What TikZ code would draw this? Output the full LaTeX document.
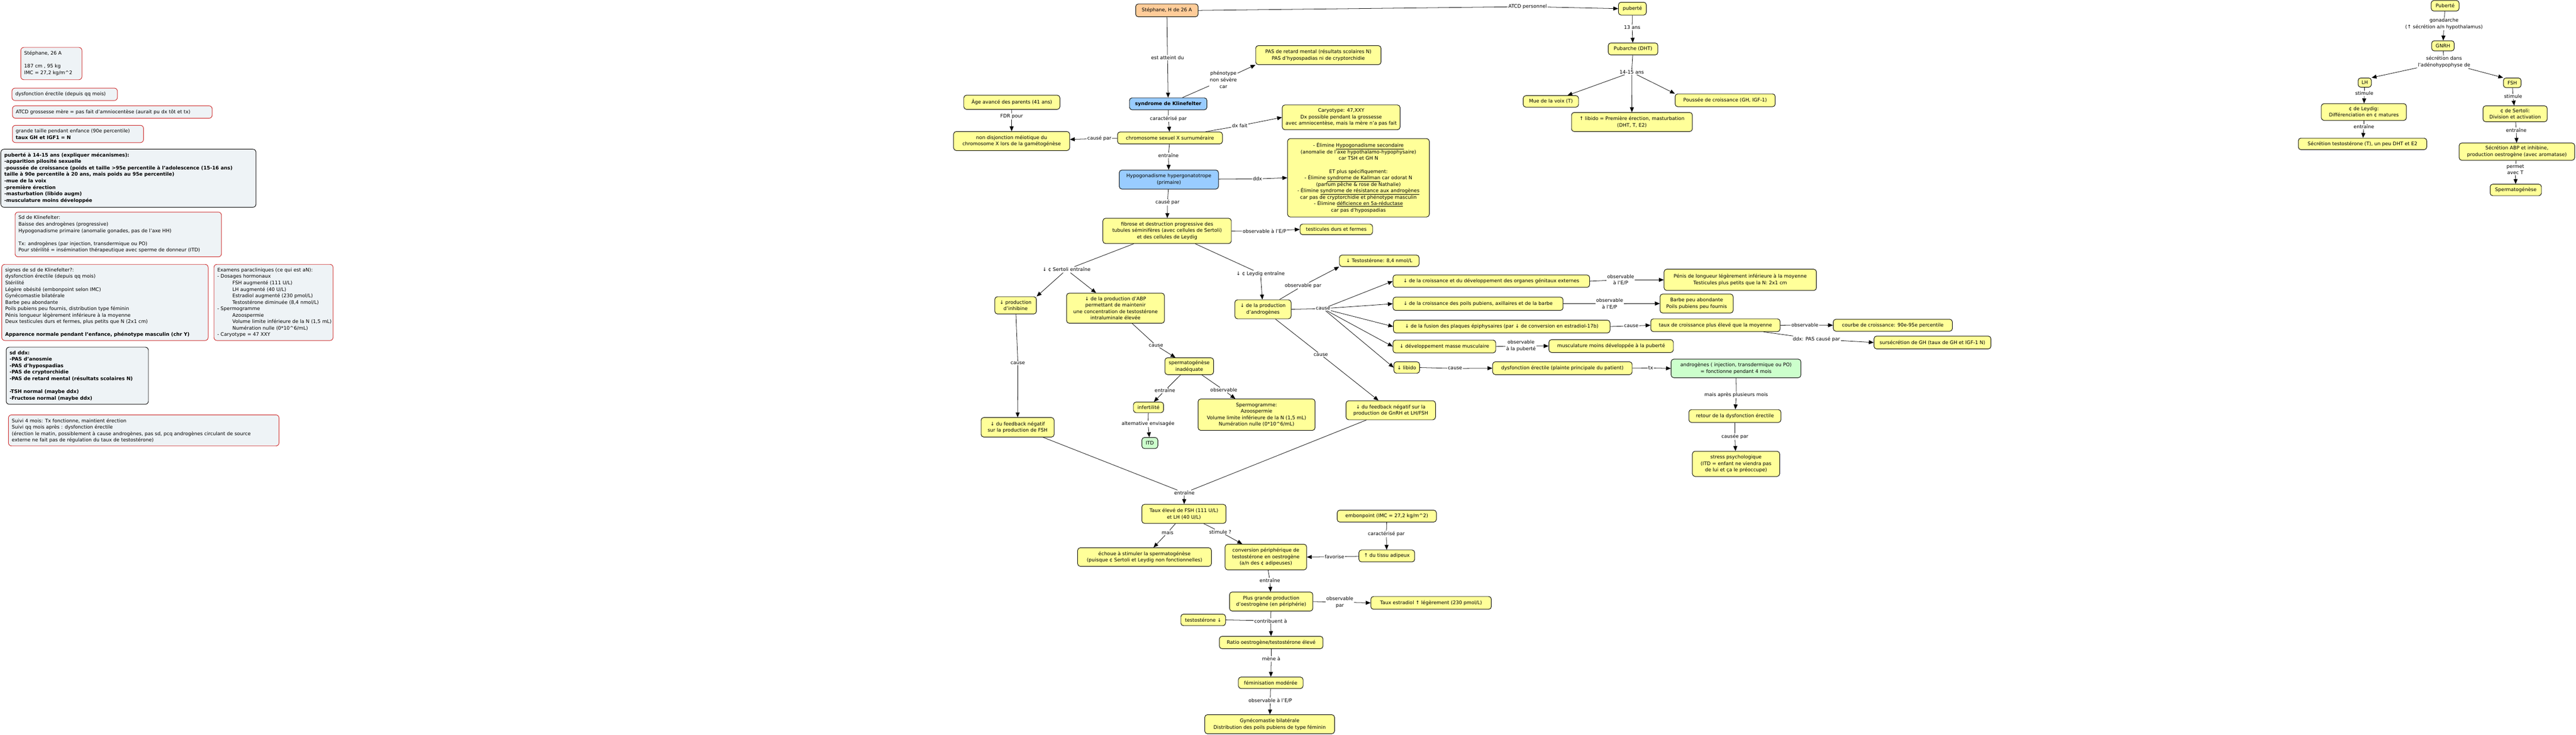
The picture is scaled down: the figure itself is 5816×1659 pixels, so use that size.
\documentclass[tikz,border=0pt]{standalone}
\usepackage{fontspec}
\setmainfont{DejaVu Sans}
\usetikzlibrary{arrows.meta}
\definecolor{cy}{HTML}{FFFF99}
\definecolor{cbl}{HTML}{99CCFF}
\definecolor{cgr}{HTML}{CCFFCC}
\definecolor{cor}{HTML}{FFCC99}
\definecolor{cnf}{HTML}{EEF3F6}
\definecolor{crd}{HTML}{CC2222}
\newcommand\BX[7]{\node[#1,minimum width={#5-#3},minimum height={#6-#4}] (#2) at ({(#3+#5)/2},{(#4+#6)/2}) {#7};}
\newcommand\NT[7]{\node[#1,minimum width={#5-#3},minimum height={#6-#4}] (#2) at ({(#3+#5)/2},{(#4+#6)/2}) {};
  \node[ntx] (#2t) at ([xshift=8pt,yshift=-8.5pt]#2.north west) {#7};}
\newcommand\NTB[7]{\node[#1,minimum width={#5-#3},minimum height={#6-#4}] (#2) at ({(#3+#5)/2},{(#4+#6)/2}) {};
  \node[ntx,font=\fontsize{11}{14.6}\selectfont\bfseries] (#2t) at ([xshift=8pt,yshift=-8.5pt]#2.north west) {#7};}
\newcommand\LB[3]{\node[lb] (#1) at (#2) {#3};}
\newcommand\LK[3]{\draw[ln] (#1) -- (#2); \draw[ar] (#2) -- (#3);}
\begin{document}
\begin{tikzpicture}[x=1pt,y=-1pt,
  every node/.style={font=\fontsize{11}{14.6}\selectfont},
  cn/.style={draw=black, line width=1.1pt, rounded corners=6pt, align=center, inner sep=2pt},
  yb/.style={cn, fill=cy},
  bb/.style={cn, fill=cbl},
  gb/.style={cn, fill=cgr},
  ob/.style={cn, fill=cor},
  nt/.style={draw=crd, line width=1.1pt, rounded corners=7pt, fill=cnf},
  ntk/.style={nt, draw=black},
  ntx/.style={anchor=north west, align=left, inner sep=0pt},
  lb/.style={inner sep=1.5pt, align=center},
  ln/.style={line width=0.9pt},
  ar/.style={ln, -{Triangle[length=11pt,width=9pt]}}]
\useasboundingbox (0,0) rectangle (5816,1659);
\fill[white] (0,0) rectangle (5816,1659);

% ---------- left notes ----------
\NT{nt}{n1}{47}{107}{185}{180}{Stéphane, 26 A\\[14.6pt]187 cm , 95 kg\\IMC = 27,2 kg/m\textasciicircum 2}
\NT{nt}{n2}{27}{199}{265}{227}{dysfonction érectile (depuis qq mois)}
\NT{nt}{n3}{28}{239}{479}{267}{ATCD grossesse mère = pas fait d'amniocentèse (aurait pu dx tôt et tx)}
\NT{nt}{n4}{28}{283}{324}{322}{grande taille pendant enfance (90e percentile)\\\textbf{taux GH et IGF1 = N}}
\NTB{ntk}{n5}{2}{337}{578}{468}{puberté à 14-15 ans (expliquer mécanismes):\\-apparition pilosité sexuelle\\-poussée de croissance (poids et taille >95e percentile à l'adolescence (15-16 ans)\\taille à 90e percentile à 20 ans, mais poids au 95e percentile)\\-mue de la voix\\-première érection\\-masturbation (libido augm)\\-musculature moins développée}
\NT{nt}{n6}{34}{479}{500}{580}{Sd de Klinefelter:\\Baisse des androgènes (progressive)\\Hypogonadisme primaire (anomalie gonades, pas de l'axe HH)\\[14.6pt]Tx: androgènes (par injection, transdermique ou PO)\\Pour stérilité = insémination thérapeutique avec sperme de donneur (ITD)}
\NT{nt}{n7}{4}{597}{470}{769}{signes de sd de Klinefelter?:\\dysfonction érectile (depuis qq mois)\\Stérilité\\Légère obésité (embonpoint selon IMC)\\Gynécomastie bilatérale\\Barbe peu abondante\\Poils pubiens peu fournis, distribution type féminin\\Pénis longueur légèrement inférieure à la moyenne\\Deux testicules durs et fermes, plus petits que N (2x1 cm)\\[14.6pt]\textbf{Apparence normale pendant l'enfance, phénotype masculin (chr Y)}}
\NT{nt}{n8}{483}{597}{752}{769}{Examens paracliniques (ce qui est aN):\\- Dosages hormonaux\\\hspace*{34pt}FSH augmenté (111 U/L)\\\hspace*{34pt}LH augmenté (40 U/L)\\\hspace*{34pt}Estradiol augmenté (230 pmol/L)\\\hspace*{34pt}Testostérone diminuée (8,4 nmol/L)\\- Spermogramme\\\hspace*{34pt}Azoospermie\\\hspace*{34pt}Volume limite inférieure de la N (1,5 mL)\\\hspace*{34pt}Numération nulle (0*10\textasciicircum 6/mL)\\- Caryotype = 47 XXY}
\NTB{ntk}{n9}{14}{784}{335}{913}{sd ddx:\\-PAS d'anosmie\\-PAS d'hypospadias\\-PAS de cryptorchidie\\-PAS de retard mental (résultats scolaires N)\\[14.6pt]-TSH normal (maybe ddx)\\-Fructose normal (maybe ddx)}
\NT{nt}{n10}{19}{937}{630}{1007}{Suivi 4 mois: Tx fonctionne, maintient érection\\Suivi qq mois après : dysfonction érectile\\(érection le matin, possiblement à cause androgènes, pas sd, pcq androgènes circulant de source\\externe ne fait pas de régulation du taux de testostérone)}

% ---------- central map ----------
\BX{ob}{steph}{2564}{9}{2705}{38}{Stéphane, H de 26 A}
\LB{l1}{2636,130}{est atteint du}
\BX{bb}{klin}{2550}{221}{2725}{248}{\textbf{syndrome de Klinefelter}}
\LB{l2}{2762,180}{phénotype\\non sévère\\car}
\BX{yb}{pasret}{2835}{103}{3118}{146}{PAS de retard mental (résultats scolaires N)\\PAS d'hypospadias ni de cryptorchidie}
\LB{l3}{2638,268}{caractérisé par}
\BX{yb}{chromo}{2523}{298}{2760}{325}{chromosome sexuel X surnuméraire}
\LB{l4}{2482,313}{causé par}
\BX{yb}{nondis}{2153}{297}{2415}{340}{non disjonction méiotique du\\chromosome X lors de la gamétogénèse}
\BX{yb}{age}{2176}{215}{2393}{247}{Âge avancé des parents (41 ans)}
\LB{l5}{2284,263}{FDR pour}
\LB{l6}{2799,284}{dx fait}
\BX{yb}{caryo}{2895}{237}{3161}{293}{Caryotype: 47,XXY\\Dx possible pendant la grossesse\\avec amniocentèse, mais la mère n'a pas fait}
\LB{l7}{2638,351}{entraîne}
\BX{bb}{hypo}{2527}{384}{2751}{427}{Hypogonadisme hypergonatotrope\\(primaire)}
\LB{l8}{2839,404}{ddx}
\BX{yb}{ddxb}{2907}{313}{3227}{490}{- Élimine \underline{Hypogonadisme secondaire}\\(anomalie de l'axe hypothalamo-hypophysaire)\\car TSH et GH N\\[14.6pt]ET plus spécifiquement:\\- Élimine \underline{syndrome de Kallman} car odorat N\\(parfum pêche \& rose de Nathalie)\\- Élimine \underline{syndrome de résistance aux androgènes}\\car pas de cryptorchidie et phénotype masculin\\- Élimine \underline{déficience en 5a-réductase}\\car pas d'hypospadias}
\LB{l9}{2636,457}{causé par}
\BX{yb}{fib}{2490}{493}{2780}{550}{fibrose et destruction progressive des\\tubules séminifères (avec cellules de Sertoli)\\et des cellules de Leydig}
\LB{l10}{2855,522}{observable à l'E/P}
\BX{yb}{testic}{2935}{506}{3099}{530}{testicules durs et fermes}
\LB{lS}{2408,609}{↓ ¢ Sertoli entraîne}
\LB{lL}{2846,618}{↓ ¢ Leydig entraîne}
\BX{yb}{inhib}{2246}{670}{2340}{709}{↓ production\\d'inhibine}
\BX{yb}{abp}{2408}{662}{2629}{730}{↓ de la production d'ABP\\permettant de maintenir\\une concentration de testostérone\\intraluminale élevée}
\LB{l11}{2298,820}{cause}
\BX{yb}{fbfsh}{2215}{943}{2380}{987}{↓ du feedback négatif\\sur la production de FSH}
\LB{l12}{2610,780}{cause}
\BX{yb}{spinad}{2630}{808}{2740}{846}{spermatogénèse\\inadéquate}
\LB{l13}{2630,882}{entraîne}
\LB{l14}{2763,881}{observable}
\BX{yb}{infert}{2559}{908}{2627}{932}{infertilité}
\BX{yb}{spermo}{2705}{901}{2969}{972}{Spermogramme:\\Azoospermie\\Volume limite inférieure de la N (1,5 mL)\\Numération nulle (0*10\textasciicircum 6/mL)}
\LB{l15}{2592,957}{alternative envisagée}
\BX{gb}{itd}{2578}{988}{2614}{1013}{ITD}
\BX{yb}{andro}{2788}{677}{2915}{720}{↓ de la production\\d'androgènes}
\LB{l16}{2942,645}{observable par}
\BX{yb}{testo}{3024}{576}{3204}{602}{↓ Testostérone: 8,4 nmol/L}
\LB{lc}{2987,697}{cause}
\LB{lc2}{2982,801}{cause}
\BX{yb}{fbgn}{3039}{905}{3241}{948}{↓ du feedback négatif sur la\\production de GnRH et LH/FSH}
\LB{le}{2674,1113}{entraîne}
\BX{yb}{tfsh}{2578}{1139}{2768}{1182}{Taux élevé de FSH (111 U/L)\\et LH (40 U/L)}
\LB{lmais}{2636,1203}{mais}
\LB{lstim}{2755,1201}{stimule ?}
\BX{yb}{echoue}{2433}{1237}{2735}{1279}{échoue à stimuler la spermatogénèse\\(puisque ¢ Sertoli et Leydig non fonctionnelles)}
\BX{yb}{conv}{2766}{1229}{2950}{1287}{conversion périphérique de\\testostérone en oestrogène\\(a/n des ¢ adipeuses)}
\BX{yb}{embon}{3019}{1152}{3243}{1179}{embonpoint (IMC = 27,2 kg/m\textasciicircum 2)}
\LB{lcar}{3130,1206}{caractérisé par}
\BX{yb}{tissu}{3068}{1242}{3194}{1269}{↑ du tissu adipeux}
\LB{lfav}{3013,1257}{favorise}
\LB{lent}{2867,1311}{entraîne}
\BX{yb}{plus}{2776}{1337}{2964}{1380}{Plus grande production\\d'oestrogène (en périphérie)}
\LB{lobs}{3025,1360}{observable\\par}
\BX{yb}{estr}{3095}{1347}{3367}{1376}{Taux estradiol ↑ légèrement (230 pmol/L)}
\BX{yb}{testod}{2666}{1387}{2767}{1413}{testostérone ↓}
\LB{lcon}{2869,1402}{contribuent à}
\BX{yb}{ratio}{2753}{1437}{2987}{1465}{Ratio oestrogène/testostérone élevé}
\LB{lmene}{2870,1488}{mène à}
\BX{yb}{femin}{2796}{1529}{2942}{1555}{féminisation modérée}
\LB{lobsep}{2868,1582}{observable à l'E/P}
\BX{yb}{gyn}{2720}{1614}{3013}{1657}{Gynécomastie bilatérale\\Distribution des poils pubiens de type féminin}

% effects of androgen decrease
\BX{yb}{eff1}{3145}{621}{3589}{649}{↓ de la croissance et du développement des organes génitaux externes}
\BX{yb}{eff2}{3145}{671}{3529}{701}{↓ de la croissance des poils pubiens, axillaires et de la barbe}
\BX{yb}{eff3}{3146}{723}{3635}{752}{↓ de la fusion des plaques épiphysaires (par ↓ de conversion en estradiol-17b)}
\BX{yb}{eff4}{3145}{768}{3377}{797}{↓ développement masse musculaire}
\BX{yb}{eff5}{3147}{817}{3205}{843}{↓ libido}
\LB{lo1}{3659,632}{observable\\à l'E/P}
\BX{yb}{penis}{3757}{608}{4101}{656}{Pénis de longueur légèrement inférieure à la moyenne\\Testicules plus petits que la N: 2x1 cm}
\LB{lo2}{3634,686}{observable\\à l'E/P}
\BX{yb}{barbe}{3748}{664}{3913}{707}{Barbe peu abondante\\Poils pubiens peu fournis}
\LB{lo3}{3683,736}{cause}
\BX{yb}{tcr}{3727}{720}{4019}{749}{taux de croissance plus élevé que la moyenne}
\LB{lo4}{4075,734}{observable}
\BX{yb}{courbe}{4139}{721}{4408}{748}{courbe de croissance: 90e-95e percentile}
\LB{lo5}{4101,766}{ddx: PAS causé par}
\BX{yb}{sursec}{4231}{759}{4495}{788}{sursécrétion de GH (taux de GH et IGF-1 N)}
\LB{lo6}{3434,781}{observable\\à la puberté}
\BX{yb}{muscu}{3497}{767}{3778}{796}{musculature moins développée à la puberté}
\LB{lo7}{3285,832}{cause}
\BX{yb}{dysf}{3370}{817}{3685}{846}{dysfonction érectile (plainte principale du patient)}
\LB{lo8}{3727,831}{tx}
\BX{gb}{andg}{3773}{811}{4066}{853}{androgènes ( injection, transdermique ou PO)\\= fonctionne pendant 4 mois}
\LB{lo9}{3920,892}{mais après plusieurs mois}
\BX{yb}{retour}{3813}{925}{4021}{954}{retour de la dysfonction érectile}
\LB{lo10}{3917,986}{causée par}
\BX{yb}{stress}{3821}{1019}{4018}{1076}{stress psychologique\\(ITD = enfant ne viendra pas\\de lui et ça le préoccupe)}

% puberty (patient)
\LB{lA}{3449,15}{ATCD personnel}
\BX{yb}{puberte}{3654}{5}{3717}{34}{puberté}
\LB{p1}{3685,62}{13 ans}
\BX{yb}{pubarche}{3631}{97}{3743}{124}{Pubarche (DHT)}
\LB{p2}{3684,163}{14-15 ans}
\BX{yb}{mue}{3439}{216}{3564}{242}{Mue de la voix (T)}
\BX{yb}{lib2}{3548}{254}{3821}{297}{↑ libido = Première érection, masturbation\\(DHT, T, E2)}
\BX{yb}{pous}{3782}{212}{4008}{241}{Poussée de croissance (GH, IGF-1)}

% puberty physiology
\BX{yb}{Pub}{5489}{1}{5552}{25}{Puberté}
\LB{q1}{5518,54}{gonadarche\\(↑ sécrétion a/n hypothalamus)}
\BX{yb}{gnrh}{5490}{92}{5541}{115}{GNRH}
\LB{q2}{5518,140}{sécrétion dans\\l'adénohypophyse de}
\BX{yb}{lh}{5324}{176}{5354}{197}{LH}
\BX{yb}{fsh}{5652}{176}{5692}{198}{FSH}
\LB{q3}{5338,211}{stimule}
\BX{yb}{leyd}{5241}{234}{5433}{272}{¢ de Leydig:\\Différenciation en ¢ matures}
\LB{q4}{5337,286}{entraîne}
\BX{yb}{sect}{5189}{312}{5479}{338}{Sécrétion testostérone (T), un peu DHT et E2}
\LB{q5}{5674,218}{stimule}
\BX{yb}{sert}{5606}{239}{5751}{275}{¢ de Sertoli:\\Division et activation}
\LB{q6}{5681,294}{entraîne}
\BX{yb}{secabp}{5552}{323}{5813}{362}{Sécrétion ABP et inhibine,\\production oestrogène (avec aromatase)}
\LB{q7}{5679,383}{permet\\avec T}
\BX{yb}{spermato}{5622}{416}{5738}{442}{Spermatogénèse}

% ---------- connectors ----------
\LK{steph.east}{lA}{puberte.west}
\LK{steph}{l1}{klin}
\LK{klin}{l2}{pasret.south west}
\LK{klin}{l3}{chromo}
\LK{chromo}{l4}{nondis}
\LK{age}{l5}{nondis}
\LK{chromo}{l6}{caryo.west}
\LK{chromo}{l7}{hypo}
\LK{hypo}{l8}{ddxb.west}
\LK{hypo}{l9}{fib}
\LK{fib}{l10}{testic.west}
\draw[ln] (fib) -- (lS); \draw[ar] (lS) -- (inhib.north east); \draw[ar] (lS) -- (abp);
\LK{fib}{lL}{andro}
\LK{inhib}{l11}{fbfsh}
\LK{abp}{l12}{spinad}
\LK{spinad}{l13}{infert}
\LK{spinad}{l14}{spermo}
\LK{infert}{l15}{itd}
\LK{andro}{l16}{testo.south west}
\draw[ln] (andro.east) -- (lc);
\foreach \e in {eff1,eff2,eff3,eff4,eff5} {\draw[ar] (lc) -- (\e.west);}
\LK{andro}{lc2}{fbgn}
\draw[ln] (fbfsh) -- (le); \draw[ln] (fbgn) -- (le); \draw[ar] (le) -- (tfsh);
\LK{tfsh}{lmais}{echoue}
\LK{tfsh}{lstim}{conv}
\LK{embon}{lcar}{tissu}
\LK{tissu}{lfav}{conv.east}
\LK{conv}{lent}{plus}
\LK{plus.east}{lobs}{estr.west}
\draw[ln] (testod.east) -- (lcon);
\LK{plus}{lcon}{ratio}
\LK{ratio}{lmene}{femin}
\LK{femin}{lobsep}{gyn}
\LK{eff1.east}{lo1}{penis.west}
\LK{eff2.east}{lo2}{barbe.west}
\LK{eff3.east}{lo3}{tcr.west}
\LK{tcr.east}{lo4}{courbe.west}
\LK{tcr}{lo5}{sursec.west}
\LK{eff4.east}{lo6}{muscu.west}
\LK{eff5.east}{lo7}{dysf.west}
\LK{dysf.east}{lo8}{andg.west}
\LK{andg}{lo9}{retour}
\LK{retour}{lo10}{stress}
\LK{puberte}{p1}{pubarche}
\draw[ln] (pubarche) -- (p2); \draw[ar] (p2) -- (mue); \draw[ar] (p2) -- (lib2); \draw[ar] (p2) -- (pous.north west);
\LK{Pub}{q1}{gnrh}
\draw[ln] (gnrh) -- (q2); \draw[ar] (q2) -- (lh.north east); \draw[ar] (q2) -- (fsh.north west);
\LK{lh}{q3}{leyd}
\LK{leyd}{q4}{sect}
\LK{fsh}{q5}{sert}
\LK{sert}{q6}{secabp}
\LK{secabp}{q7}{spermato}
\end{tikzpicture}
\end{document}
